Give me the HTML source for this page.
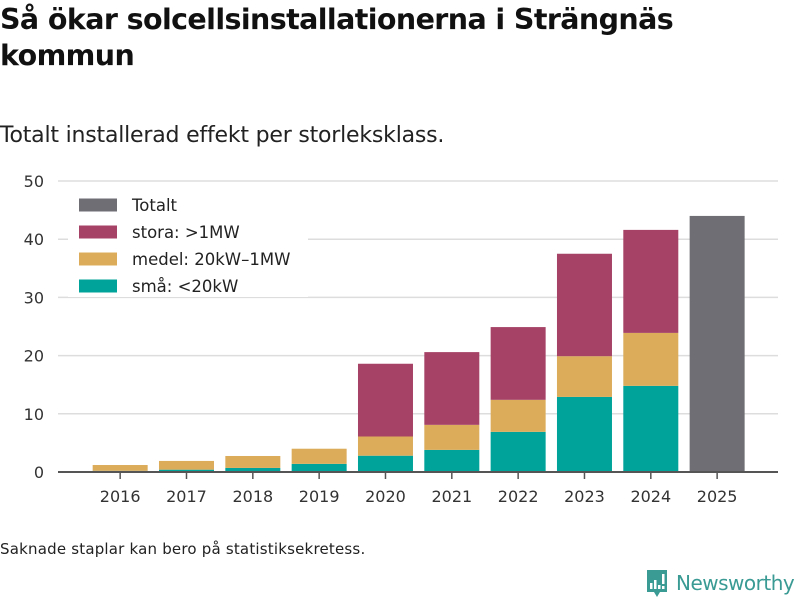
<!DOCTYPE html>
<html><head><meta charset="utf-8"><style>
body{margin:0;width:800px;height:600px;background:#fff;font-family:"Liberation Sans","DejaVu Sans",sans-serif;overflow:hidden;position:relative}
h1{position:absolute;left:0;top:2px;margin:0;font-size:28.5px;line-height:36px;font-weight:bold;color:#111;font-family:"DejaVu Sans","Liberation Sans",sans-serif;letter-spacing:-0.6px}
.sub{position:absolute;left:0;top:123px;font-size:22px;color:#222;font-family:"DejaVu Sans","Liberation Sans",sans-serif;letter-spacing:-0.2px}
.note{position:absolute;left:0;top:540px;font-size:15px;color:#222;font-family:"DejaVu Sans",sans-serif;letter-spacing:0.2px}
.logo{position:absolute;left:645px;top:568px;display:flex;align-items:center;gap:7px;color:#3a9a94;font-size:20px;font-family:"DejaVu Sans",sans-serif;letter-spacing:-0.5px}
</style></head><body>
<h1>Så ökar solcellsinstallationerna i Strängnäs<br>kommun</h1>
<div class="sub">Totalt installerad effekt per storleksklass.</div>
<svg id="chart" width="800" height="600" style="position:absolute;left:0;top:0"></svg>
<div class="note">Saknade staplar kan bero på statistiksekretess.</div>
<div class="logo"><svg width="24" height="30" viewBox="0 0 24 30"><path d="M2 2h20v22h-7l-3 5-3-5H2z" fill="#3a9a94"/><rect x="5" y="15" width="2.5" height="6" fill="#fff"/><rect x="9" y="12" width="2.5" height="9" fill="#fff"/><rect x="13" y="17" width="2.5" height="4" fill="#fff"/><rect x="17" y="6" width="2.5" height="10" fill="#fff"/><rect x="17" y="18" width="2.5" height="3" fill="#fff"/></svg><span>Newsworthy</span></div>
<script>
const years=["2016","2017","2018","2019","2020","2021","2022","2023","2024","2025"];
const sma=[0.2,0.4,0.7,1.4,2.8,3.8,6.9,12.9,14.8,null];
const medel=[1.0,1.5,2.05,2.6,3.3,4.3,5.5,7.0,9.1,null];
const stora=[0,0,0,0,12.5,12.5,12.5,17.6,17.7,null];
const totalt=[null,null,null,null,null,null,null,null,null,44];
const yTicks=[0,10,20,30,40,50];
const NS="http://www.w3.org/2000/svg";
const svg=document.getElementById('chart');
const x0=58,x1=778,y0=472,yTop=181;
const y=v=>y0-(v/50)*(y0-yTop);
const bandStart=87,step=66.33;
const xc=i=>bandStart+step*(i+0.5);
const bw=55;
function mk(t,a){const e=document.createElementNS(NS,t);for(const k in a)e.setAttribute(k,a[k]);svg.appendChild(e);return e;}
yTicks.forEach(t=>{
  const g=mk('line',{x1:x0,x2:x1,y1:y(t),y2:y(t),stroke:'#ddd','stroke-width':1.5});
  
  
  const l=mk('text',{x:44,y:y(t)+6,'text-anchor':'end','font-size':16,fill:'#333','font-family':'DejaVu Sans,sans-serif'});
  l.textContent=t;
  
  
});
const cols={sma:'#00a39a',medel:'#dcac5b',stora:'#a64266',tot:'#6f6e74'};
years.forEach((yr,i)=>{
  let base=0;
  [[sma,'sma'],[medel,'medel'],[stora,'stora']].forEach(([arr,k])=>{
    const v=arr[i]; if(v==null||v<=0) return;
    const r=mk('rect',{x:xc(i)-bw/2,y:y(base+v),width:bw,height:y(base)-y(base+v),fill:cols[k]});
    
    
    base+=v;
  });
  if(totalt[i]!=null){
    const r=mk('rect',{x:xc(i)-bw/2,y:y(totalt[i]),width:bw,height:y0-y(totalt[i]),fill:cols.tot});
    
    
  }
  const tk=mk('line',{x1:xc(i),x2:xc(i),y1:y0,y2:y0+7,stroke:'#555','stroke-width':1.5});
  
  
  const t=mk('text',{x:xc(i),y:502,'text-anchor':'middle','font-size':16,fill:'#333','font-family':'DejaVu Sans,sans-serif'});
  t.textContent=yr;
  
  
});
const ax=mk('line',{x1:x0,x2:x1,y1:y0,y2:y0,stroke:'#555','stroke-width':2});


const lb=mk('rect',{x:68,y:190,width:240,height:107,fill:'#fff'});


[['Totalt','tot'],['stora: >1MW','stora'],['medel: 20kW–1MW','medel'],['små: <20kW','sma']].forEach(([n,k],j)=>{
  const cy=205+j*27;
  const s=mk('rect',{x:79,y:cy-6.5,width:38,height:13,fill:cols[k]});
  
  
  const t=mk('text',{x:132,y:cy+6,'font-size':16.5,fill:'#222','font-family':'DejaVu Sans,sans-serif'});
  t.textContent=n;
  
  
});
</script>
</body></html>
